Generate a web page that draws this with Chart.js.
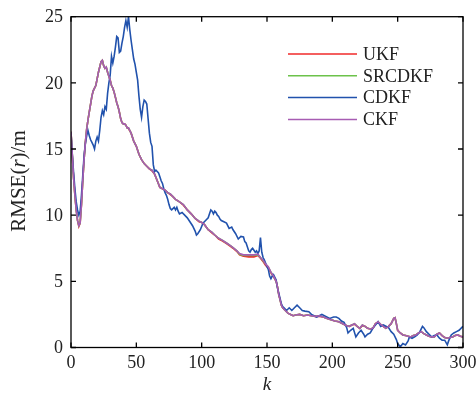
<!DOCTYPE html>
<html>
<head>
<meta charset="utf-8">
<script src="https://cdn.jsdelivr.net/npm/chart.js@4"></script>
<style>
  html, body { margin: 0; padding: 0; background: #fff; }
  #wrap { width: 476px; height: 397px; }
</style>
</head>
<body>
<div id="wrap"><canvas id="rmseChart" width="476" height="397"></canvas></div>
<script>
// time steps for the three smooth filters
const kSmooth = [0,1,2,3,4,5,6,7,8,9,10,11,12,13,14,15,16,17,18,19,20,21,22,23,24,25,26,27,28,29,30,31,32,33,34,35,36,37,38,39,40,41,42,43,44,46,48,50,52,54,56,58,60,62,64,66,68,70,72,74,76,78,80,83,86,89,92,95,98,100,102,105,108,110,113,116,119,122,124,127,129,132,136,140,143,145,147,149,151,153,155,157,158,159,160,161,162,164,166,168,170,172,175,178,181,184,187,190,193,196,199,202,205,208,211,213,215,217,219,221,223,225,227,229,231,233,235,237,239,241,243,245,247,248,249,250,252,254,256,258,260,262,264,266,268,270,272,274,276,278,280,282,284,286,288,290,292,294,296,298,300];

const rmseCkf = [16.3,14.5,12.8,11.5,10.4,9.6,9.2,9.4,10.8,12.6,14.2,15.5,16.5,17.2,17.8,18.4,19.0,19.4,19.6,19.8,20.3,20.8,21.2,21.6,21.7,21.3,21.1,21.2,20.8,20.5,20.2,19.8,19.6,19.3,18.9,18.5,18.2,17.8,17.3,17.0,16.9,16.9,16.8,16.6,16.6,16.2,15.6,15.2,14.6,14.2,13.9,13.7,13.5,13.4,13.1,12.6,12.1,12.0,11.9,11.7,11.6,11.4,11.2,11.0,10.8,10.4,10.1,9.75,9.55,9.45,9.3,8.9,8.7,8.5,8.25,8.1,7.9,7.7,7.55,7.3,7.1,7.0,7.0,7.0,7.05,6.8,6.6,6.3,6.1,5.7,5.4,5.0,4.6,4.0,3.6,3.2,3.0,2.8,2.6,2.5,2.4,2.45,2.5,2.4,2.45,2.4,2.35,2.4,2.3,2.2,2.1,2.0,1.95,1.8,1.65,1.6,1.7,1.8,1.6,1.45,1.7,1.6,1.45,1.4,1.45,1.8,1.95,1.75,1.6,1.45,1.6,1.8,2.2,2.25,1.8,1.3,1.1,0.95,0.9,0.85,0.8,0.9,0.95,1.1,1.2,1.05,0.95,0.85,0.8,0.8,1.0,1.1,0.9,0.75,0.7,0.75,0.8,0.9,0.95,0.85,0.8];

const rmseUkf = [16.3,14.5,12.8,11.5,10.4,9.6,9.15,9.4,10.8,12.6,14.2,15.5,16.5,17.2,17.8,18.4,19.0,19.4,19.6,19.8,20.3,20.8,21.2,21.6,21.7,21.3,21.1,21.15,20.8,20.5,20.2,19.8,19.6,19.3,18.9,18.5,18.2,17.8,17.3,17.0,16.9,16.9,16.8,16.6,16.55,16.2,15.6,15.2,14.6,14.2,13.9,13.7,13.5,13.35,13.1,12.6,12.1,12.0,11.9,11.7,11.55,11.4,11.2,11.0,10.75,10.4,10.1,9.75,9.5,9.45,9.3,8.9,8.65,8.5,8.2,8.05,7.85,7.65,7.5,7.25,7.0,6.9,6.85,6.85,6.95,6.75,6.5,6.2,6.0,5.65,5.35,5.0,4.6,4.0,3.6,3.2,3.0,2.8,2.6,2.5,2.4,2.45,2.5,2.4,2.45,2.4,2.35,2.35,2.3,2.2,2.1,2.0,1.95,1.8,1.65,1.6,1.7,1.75,1.6,1.45,1.65,1.6,1.45,1.4,1.45,1.8,1.9,1.75,1.6,1.45,1.6,1.8,2.2,2.25,1.8,1.3,1.1,0.95,0.9,0.85,0.8,0.9,0.95,1.1,1.2,1.05,0.95,0.85,0.8,0.8,1.0,1.1,0.9,0.75,0.7,0.75,0.8,0.9,0.95,0.85,0.8];

const rmseSrcdkf = [16.3,14.5,12.8,11.5,10.4,9.6,9.2,9.4,10.8,12.6,14.2,15.5,16.5,17.2,17.8,18.4,19.0,19.4,19.6,19.8,20.3,20.8,21.2,21.6,21.7,21.3,21.1,21.2,20.8,20.5,20.2,19.8,19.6,19.3,18.9,18.5,18.2,17.8,17.3,17.0,16.9,16.9,16.8,16.6,16.6,16.2,15.6,15.2,14.6,14.2,13.9,13.7,13.5,13.4,13.1,12.6,12.1,12.0,11.9,11.7,11.6,11.4,11.2,11.0,10.8,10.4,10.1,9.75,9.55,9.45,9.3,8.9,8.7,8.5,8.25,8.1,7.9,7.7,7.55,7.3,7.05,6.95,6.95,6.95,7.0,6.8,6.55,6.3,6.05,5.7,5.4,5.0,4.6,4.0,3.6,3.2,3.0,2.8,2.6,2.5,2.4,2.45,2.5,2.4,2.45,2.4,2.35,2.4,2.3,2.2,2.1,2.0,1.95,1.8,1.65,1.6,1.7,1.8,1.6,1.45,1.7,1.6,1.45,1.4,1.45,1.8,1.95,1.75,1.6,1.45,1.6,1.8,2.2,2.25,1.8,1.3,1.1,0.95,0.9,0.85,0.8,0.9,0.95,1.1,1.2,1.05,0.95,0.85,0.8,0.8,1.0,1.1,0.9,0.75,0.7,0.75,0.8,0.9,0.95,0.85,0.8];

// CDKF is noisier, sampled on its own steps
const kCdkf = [0,1,2,3,4,5,6,7,8,9,10,11,12,13,14,15,16,17,18,19,20,21,22,23,24,25,26,27,28,29,30,31,32,33,34,35,36,37,38,39,40,41,42,43,44,45,46,47,48,49,50,51,52,53,54,55,56,57,58,59,60,61,62,63,64,65,66,67,68,69,70,71,72,73,74,75,76,77,78,79,80,81,82,83,85,87,89,91,93,95,96,97,99,101,103,105,106,107,108,109,110,111,112,113,114,115,117,119,121,123,124,126,128,130,132,133,134,136,137,138,139,141,142,143,144,145,146,147,148,150,151,152,153,154,155,156,157,158,159,160,161,162,163,165,167,169,171,173,175,177,179,182,184,186,188,190,192,195,198,201,203,205,207,209,211,212,214,216,218,220,222,224,225,227,229,231,233,235,237,239,241,243,245,247,249,250,252,254,256,258,259,261,263,265,267,269,270,272,274,276,278,280,282,284,286,288,289,291,293,295,297,299,300];

const rmseCdkf = [16.2,14.6,13.2,12.0,11.0,10.4,10.0,10.3,11.5,13.0,14.5,15.4,16.0,16.4,16.0,15.7,15.5,15.3,15.0,15.6,15.9,15.6,16.4,17.4,17.9,17.6,18.2,18.0,19.2,20.0,20.6,22.0,21.5,22.0,22.7,23.5,23.4,22.3,22.4,23.0,23.5,24.2,24.7,24.2,25.0,24.0,23.2,22.5,21.8,21.4,20.8,20.2,19.0,18.0,17.4,18.2,18.7,18.6,18.4,17.3,16.2,15.5,15.2,13.8,13.3,13.4,13.3,13.2,12.9,12.6,12.4,12.0,11.7,11.5,11.2,10.8,10.5,10.4,10.5,10.6,10.4,10.6,10.3,10.1,10.2,10.0,9.8,9.5,9.2,8.8,8.5,8.6,8.9,9.4,9.6,9.8,10.1,10.4,10.3,10.1,10.3,10.2,10.0,9.9,9.7,9.6,9.5,9.4,9.0,9.1,8.9,8.6,8.2,8.4,8.35,8.0,7.9,7.3,7.2,7.4,7.5,7.2,7.3,7.1,7.3,8.3,7.2,6.8,6.6,6.1,5.9,5.4,5.2,5.4,5.5,5.3,5.1,4.5,4.1,3.7,3.3,3.1,3.0,2.8,3.0,2.8,3.0,3.2,3.0,2.8,2.75,2.7,2.5,2.4,2.3,2.4,2.5,2.35,2.2,2.3,2.3,2.2,2.0,1.9,1.5,1.1,1.3,1.45,0.8,1.1,1.3,1.0,0.8,1.0,1.1,1.45,1.7,1.95,1.6,1.7,1.6,1.5,1.2,1.0,0.6,0.3,0.05,0.3,0.2,0.5,0.8,0.7,0.8,0.95,1.2,1.6,1.5,1.2,1.0,0.8,0.9,0.95,0.7,0.55,0.55,0.2,0.5,0.95,1.1,1.2,1.3,1.5,1.6];

const seriesNames = ['UKF', 'SRCDKF', 'CDKF', 'CKF'];
const seriesColors = ['#f02a2a', '#6cc24a', '#2152ad', '#a75cb3'];
const xTicks = [0, 50, 100, 150, 200, 250, 300];
const yTicks = [0, 5, 10, 15, 20, 25];

const FONT = '"Liberation Serif", "Times New Roman", serif';
const TEXT = '#222';

function toPoints(ks, vals) {
    return ks.map((k, i) => ({ x: k, y: vals[i] }));
}

// box, inward ticks, tick labels, legend and axis titles
const framePlugin = {
    id: 'frame',
    afterDraw(chart) {
        const ctx = chart.ctx;
        const a = chart.chartArea;
        const xs = chart.scales.x, ys = chart.scales.y;
        ctx.save();
        ctx.strokeStyle = '#000';
        ctx.lineWidth = 1.3;
        ctx.strokeRect(a.left, a.top, a.right - a.left, a.bottom - a.top);
        ctx.beginPath();
        xTicks.forEach(v => {
            const px = xs.getPixelForValue(v);
            ctx.moveTo(px, a.bottom); ctx.lineTo(px, a.bottom - 5);
            ctx.moveTo(px, a.top); ctx.lineTo(px, a.top + 5);
        });
        yTicks.forEach(v => {
            const py = ys.getPixelForValue(v);
            ctx.moveTo(a.left, py); ctx.lineTo(a.left + 5, py);
            ctx.moveTo(a.right, py); ctx.lineTo(a.right - 5, py);
        });
        ctx.stroke();

        ctx.fillStyle = TEXT;
        ctx.font = '18px ' + FONT;
        ctx.textBaseline = 'middle';
        ctx.textAlign = 'center';
        xTicks.forEach(v => ctx.fillText(String(v), xs.getPixelForValue(v), a.bottom + 16));
        ctx.textAlign = 'right';
        yTicks.forEach(v => ctx.fillText(String(v), a.left - 8, ys.getPixelForValue(v) + 1));

        // legend
        ctx.textAlign = 'left';
        seriesNames.forEach((name, i) => {
            const y = 54 + i * 21.8;
            ctx.strokeStyle = seriesColors[i];
            ctx.lineWidth = 1.5;
            ctx.beginPath();
            ctx.moveTo(288, y); ctx.lineTo(357, y);
            ctx.stroke();
            ctx.fillText(name, 363, y + 1);
        });

        // x title
        ctx.font = 'italic 19px ' + FONT;
        ctx.textAlign = 'center';
        ctx.fillText('k', (a.left + a.right) / 2, 385);

        // y title with italic r
        ctx.translate(19, 181);
        ctx.rotate(-Math.PI / 2);
        const parts = [['RMSE(', ''], ['r', 'italic '], [')/m', '']];
        let total = 0;
        parts.forEach(p => { ctx.font = p[1] + '21px ' + FONT; total += ctx.measureText(p[0]).width; });
        let x = -total / 2;
        ctx.textAlign = 'left';
        parts.forEach(p => {
            ctx.font = p[1] + '21px ' + FONT;
            ctx.fillText(p[0], x, 0);
            x += ctx.measureText(p[0]).width;
        });
        ctx.restore();
    }
};

const datasets = [
    { label: 'UKF', data: toPoints(kSmooth, rmseUkf), order: 3 },
    { label: 'SRCDKF', data: toPoints(kSmooth, rmseSrcdkf), order: 2 },
    { label: 'CDKF', data: toPoints(kCdkf, rmseCdkf), order: 1 },
    { label: 'CKF', data: toPoints(kSmooth, rmseCkf), order: 0 }
].map((d, i) => Object.assign(d, {
    borderColor: seriesColors[i],
    borderWidth: 1.6,
    pointRadius: 0,
    tension: 0,
    fill: false
}));

new Chart(document.getElementById('rmseChart'), {
    type: 'line',
    data: { datasets },
    options: {
        responsive: false,
        animation: false,
        layout: { padding: { top: 16.7, right: 13, left: 0, bottom: 0 } },
        plugins: { legend: { display: false }, tooltip: { enabled: false } },
        scales: {
            x: {
                type: 'linear',
                min: 0, max: 300,
                afterFit: s => { s.height = 49.5; },
                grid: { display: false, drawTicks: false },
                border: { display: false },
                ticks: { display: false, stepSize: 50 }
            },
            y: {
                min: 0, max: 25,
                afterFit: s => { s.width = 71; },
                grid: { display: false, drawTicks: false },
                border: { display: false },
                ticks: { display: false, stepSize: 5 }
            }
        }
    },
    plugins: [framePlugin]
});
</script>
</body>
</html>
